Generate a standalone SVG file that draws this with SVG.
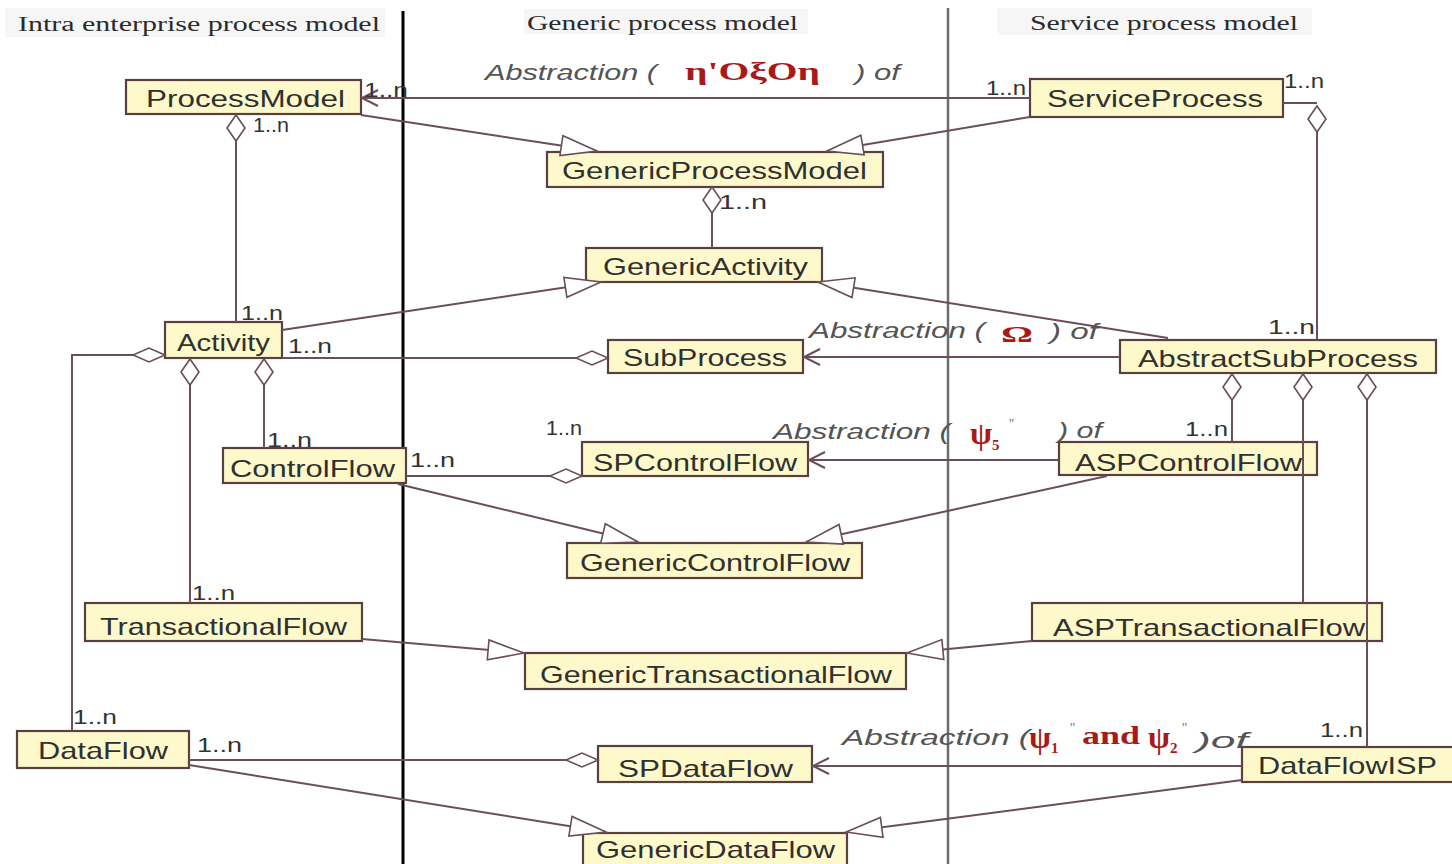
<svg xmlns="http://www.w3.org/2000/svg" width="1452" height="864" viewBox="0 0 1452 864">
  <style>
    .node rect { fill: #fdf9cb; stroke: #5b4040; stroke-width: 2.2; }
    .node text { font-family: "Liberation Sans", Arial, sans-serif; font-size: 24px; fill: #303030; }
    .hdr { font-family: "Liberation Serif", "Times New Roman", serif; font-size: 20px; fill: #2b2b2b; }
    .hdrbg { fill: #f6f6f6; }
    .mult { font-family: "Liberation Sans", Arial, sans-serif; font-size: 20px; fill: #333333; }
    .abs { font-family: "Liberation Sans", Arial, sans-serif; font-size: 22px; font-style: italic; fill: #555555; }
    .red { font-family: "Liberation Serif", "Times New Roman", serif; font-weight: bold; fill: #a81a1a; }
    .tick { font-family: "Liberation Serif", "Times New Roman", serif; font-size: 14px; fill: #777; }
    .conn { fill: none; stroke: #6a4e58; stroke-width: 2; }
  </style>
  <defs>
    <!-- hollow triangle: generalization -->
    <marker id="gen" markerUnits="userSpaceOnUse" markerWidth="40" markerHeight="24" refX="37" refY="12" orient="auto" overflow="visible">
      <path d="M37,12 L1,2 L1,22 Z" fill="#ffffff" stroke="#6a4e58" stroke-width="1.6"/>
    </marker>
    <!-- open arrow: abstraction dependency -->
    <marker id="dep" markerUnits="userSpaceOnUse" markerWidth="20" markerHeight="18" refX="17" refY="9" orient="auto" overflow="visible">
      <path d="M1,1 L17,9 L1,17" fill="none" stroke="#6a4e58" stroke-width="2"/>
    </marker>
    <!-- hollow diamond: aggregation (vertical links) -->
    <marker id="aggV" markerUnits="userSpaceOnUse" markerWidth="28" markerHeight="20" refX="0" refY="10" orient="auto" overflow="visible">
      <path d="M0,10 L13,1 L26,10 L13,19 Z" fill="#ffffff" stroke="#6a4e58" stroke-width="1.6"/>
    </marker>
    <!-- hollow diamond: aggregation (horizontal links) -->
    <marker id="aggH" markerUnits="userSpaceOnUse" markerWidth="34" markerHeight="16" refX="0" refY="8" orient="auto" overflow="visible">
      <path d="M0,8 L16,1 L32,8 L16,15 Z" fill="#ffffff" stroke="#6a4e58" stroke-width="1.6"/>
    </marker>
  </defs>

  <rect width="1452" height="864" fill="#ffffff"/>

  <!-- column headings and separators -->
  <g id="columns">
    <rect class="hdrbg" x="5" y="8" width="380" height="29"/>
    <rect class="hdrbg" x="524" y="9" width="284" height="25"/>
    <rect class="hdrbg" x="997" y="8" width="315" height="27"/>
    <text class="hdr" x="18" y="31" textLength="362" lengthAdjust="spacingAndGlyphs">Intra enterprise process model</text>
    <text class="hdr" x="527" y="30" textLength="271" lengthAdjust="spacingAndGlyphs">Generic process model</text>
    <text class="hdr" x="1030" y="30" textLength="268" lengthAdjust="spacingAndGlyphs">Service process model</text>
    <line x1="403" y1="11" x2="403" y2="864" stroke="#000" stroke-width="3"/>
    <line x1="948" y1="8" x2="948" y2="864" stroke="#6c6c6c" stroke-width="2.5"/>
  </g>

  <!-- classes -->
  <g id="ProcessModel" class="node"><rect x="126" y="80" width="235" height="34"/><text x="146" y="107" textLength="199" lengthAdjust="spacingAndGlyphs">ProcessModel</text></g>
  <g id="ServiceProcess" class="node"><rect x="1030" y="79" width="253" height="38"/><text x="1047" y="107" textLength="216" lengthAdjust="spacingAndGlyphs">ServiceProcess</text></g>
  <g id="GenericProcessModel" class="node"><rect x="547" y="152" width="336" height="35"/><text x="562" y="179" textLength="305" lengthAdjust="spacingAndGlyphs">GenericProcessModel</text></g>
  <g id="GenericActivity" class="node"><rect x="586" y="248" width="236" height="34"/><text x="603" y="275" textLength="205" lengthAdjust="spacingAndGlyphs">GenericActivity</text></g>
  <g id="Activity" class="node"><rect x="165" y="322" width="117" height="36"/><text x="177" y="351" textLength="93" lengthAdjust="spacingAndGlyphs">Activity</text></g>
  <g id="SubProcess" class="node"><rect x="608" y="340" width="195" height="33"/><text x="623" y="366" textLength="164" lengthAdjust="spacingAndGlyphs">SubProcess</text></g>
  <g id="AbstractSubProcess" class="node"><rect x="1120" y="340" width="316" height="33"/><text x="1138" y="367" textLength="280" lengthAdjust="spacingAndGlyphs">AbstractSubProcess</text></g>
  <g id="ControlFlow" class="node"><rect x="223" y="448" width="183" height="35"/><text x="230" y="477" textLength="165" lengthAdjust="spacingAndGlyphs">ControlFlow</text></g>
  <g id="SPControlFlow" class="node"><rect x="582" y="442" width="226" height="34"/><text x="593" y="471" textLength="204" lengthAdjust="spacingAndGlyphs">SPControlFlow</text></g>
  <g id="ASPControlFlow" class="node"><rect x="1059" y="442" width="258" height="33"/><text x="1075" y="471" textLength="227" lengthAdjust="spacingAndGlyphs">ASPControlFlow</text></g>
  <g id="GenericControlFlow" class="node"><rect x="567" y="543" width="295" height="35"/><text x="580" y="571" textLength="270" lengthAdjust="spacingAndGlyphs">GenericControlFlow</text></g>
  <g id="TransactionalFlow" class="node"><rect x="85" y="603" width="277" height="38"/><text x="100" y="635" textLength="247" lengthAdjust="spacingAndGlyphs">TransactionalFlow</text></g>
  <g id="GenericTransactionalFlow" class="node"><rect x="525" y="653" width="381" height="36"/><text x="540" y="683" textLength="352" lengthAdjust="spacingAndGlyphs">GenericTransactionalFlow</text></g>
  <g id="ASPTransactionalFlow" class="node"><rect x="1032" y="603" width="350" height="38"/><text x="1053" y="636" textLength="312" lengthAdjust="spacingAndGlyphs">ASPTransactionalFlow</text></g>
  <g id="DataFlow" class="node"><rect x="17" y="731" width="172" height="37"/><text x="38" y="759" textLength="130" lengthAdjust="spacingAndGlyphs">DataFlow</text></g>
  <g id="SPDataFlow" class="node"><rect x="598" y="746" width="214" height="36"/><text x="618" y="777" textLength="175" lengthAdjust="spacingAndGlyphs">SPDataFlow</text></g>
  <g id="DataFlowISP" class="node"><rect x="1242" y="747" width="216" height="35"/><text x="1258" y="774" textLength="179" lengthAdjust="spacingAndGlyphs">DataFlowISP</text></g>
  <g id="GenericDataFlow" class="node"><rect x="583" y="833" width="264" height="40"/><text x="596" y="858" textLength="239" lengthAdjust="spacingAndGlyphs">GenericDataFlow</text></g>

  <!-- associations, generalizations and abstractions -->
  <g id="connectors" class="conn">
    <!-- abstraction dependencies -->
    <path d="M1030,98 L362,98" marker-end="url(#dep)"/>
    <path d="M1120,357 L804,357" marker-end="url(#dep)"/>
    <path d="M1059,460 L809,460" marker-end="url(#dep)"/>
    <path d="M1242,766 L813,766" marker-end="url(#dep)"/>
    <!-- generalizations -->
    <path d="M361,115 L597,151" marker-end="url(#gen)"/>
    <path d="M1030,117 L827,151" marker-end="url(#gen)"/>
    <path d="M282,330 L601,282" marker-end="url(#gen)"/>
    <path d="M1168,338 L818,282" marker-end="url(#gen)"/>
    <path d="M398,484 L638,542" marker-end="url(#gen)"/>
    <path d="M1107,476 L806,542" marker-end="url(#gen)"/>
    <path d="M362,639 L524,653" marker-end="url(#gen)"/>
    <path d="M1032,641 L907,653" marker-end="url(#gen)"/>
    <path d="M189,765 L606,832" marker-end="url(#gen)"/>
    <path d="M1242,780 L846,832" marker-end="url(#gen)"/>
    <!-- aggregations -->
    <path d="M236,115 V322" marker-start="url(#aggV)"/>
    <path d="M712,187 V248" marker-start="url(#aggV)"/>
    <path d="M1283,103 H1317"/>
    <path d="M1317,106 V340" marker-start="url(#aggV)"/>
    <path d="M190,359 V603" marker-start="url(#aggV)"/>
    <path d="M264,359 V448" marker-start="url(#aggV)"/>
    <path d="M1232,374 V442" marker-start="url(#aggV)"/>
    <path d="M1303,374 V603" marker-start="url(#aggV)"/>
    <path d="M1367,374 V747" marker-start="url(#aggV)"/>
    <path d="M165,355 H72 V731" marker-start="url(#aggH)"/>
    <path d="M608,358 H282" marker-start="url(#aggH)"/>
    <path d="M582,476 H406" marker-start="url(#aggH)"/>
    <path d="M598,760 H189" marker-start="url(#aggH)"/>
  </g>

  <!-- multiplicities -->
  <g id="multiplicities">
    <text class="mult" x="364" y="97" font-size="19" textLength="44" lengthAdjust="spacingAndGlyphs">1..n</text>
    <text class="mult" x="253" y="132" font-size="15" textLength="36" lengthAdjust="spacingAndGlyphs">1..n</text>
    <text class="mult" x="986" y="95" font-size="23" textLength="40" lengthAdjust="spacingAndGlyphs">1..n</text>
    <text class="mult" x="1284" y="88" font-size="12" textLength="40" lengthAdjust="spacingAndGlyphs">1..n</text>
    <text class="mult" x="719" y="209" textLength="48" lengthAdjust="spacingAndGlyphs">1..n</text>
    <text class="mult" x="241" y="320" font-size="21" textLength="42" lengthAdjust="spacingAndGlyphs">1..n</text>
    <text class="mult" x="288" y="353" font-size="19" textLength="44" lengthAdjust="spacingAndGlyphs">1..n</text>
    <text class="mult" x="267" y="447" font-size="22" textLength="45" lengthAdjust="spacingAndGlyphs">1..n</text>
    <text class="mult" x="410" y="467" font-size="21" textLength="45" lengthAdjust="spacingAndGlyphs">1..n</text>
    <text class="mult" x="546" y="435" font-size="14" textLength="36" lengthAdjust="spacingAndGlyphs">1..n</text>
    <text class="mult" x="1185" y="436" font-size="19" textLength="43" lengthAdjust="spacingAndGlyphs">1..n</text>
    <text class="mult" x="1268" y="334" textLength="47" lengthAdjust="spacingAndGlyphs">1..n</text>
    <text class="mult" x="192" y="600" font-size="21" textLength="43" lengthAdjust="spacingAndGlyphs">1..n</text>
    <text class="mult" x="73" y="724" font-size="21" textLength="44" lengthAdjust="spacingAndGlyphs">1..n</text>
    <text class="mult" x="197" y="752" font-size="21" textLength="45" lengthAdjust="spacingAndGlyphs">1..n</text>
    <text class="mult" x="1320" y="737" font-size="21" textLength="43" lengthAdjust="spacingAndGlyphs">1..n</text>
  </g>

  <!-- abstraction labels -->
  <g id="abstraction-labels">
    <text class="abs" x="485" y="80" textLength="172" lengthAdjust="spacingAndGlyphs">Abstraction (</text>
    <text class="red" x="685" y="80" font-size="26" textLength="135" lengthAdjust="spacingAndGlyphs">η'OξOη</text>
    <text class="abs" x="855" y="80" textLength="45" lengthAdjust="spacingAndGlyphs">) of</text>

    <text class="abs" x="809" y="338" textLength="176" lengthAdjust="spacingAndGlyphs">Abstraction (</text>
    <text class="red" x="1001" y="342" font-size="24" textLength="32" lengthAdjust="spacingAndGlyphs">Ω</text>
    <text class="abs" x="1050" y="339" textLength="48" lengthAdjust="spacingAndGlyphs">) of</text>

    <text class="abs" x="773" y="439" textLength="177" lengthAdjust="spacingAndGlyphs">Abstraction (</text>
    <text class="red" x="970" y="444" font-size="32">ψ</text>
    <text class="red" x="992" y="450" font-size="15">5</text>
    <text class="tick" x="1009" y="429">''</text>
    <text class="abs" x="1058" y="438" textLength="44" lengthAdjust="spacingAndGlyphs">) of</text>

    <text class="abs" x="842" y="745" textLength="188" lengthAdjust="spacingAndGlyphs">Abstraction (</text>
    <text class="red" x="1029" y="748" font-size="32">ψ</text>
    <text class="red" x="1051" y="753" font-size="15">1</text>
    <text class="tick" x="1070" y="733">''</text>
    <text class="red" x="1082" y="744" font-size="26" textLength="58" lengthAdjust="spacingAndGlyphs">and</text>
    <text class="red" x="1148" y="748" font-size="32">ψ</text>
    <text class="red" x="1170" y="753" font-size="15">2</text>
    <text class="tick" x="1182" y="733">''</text>
    <text class="abs" x="1196" y="748" textLength="52" lengthAdjust="spacingAndGlyphs">)of</text>
  </g>
</svg>
